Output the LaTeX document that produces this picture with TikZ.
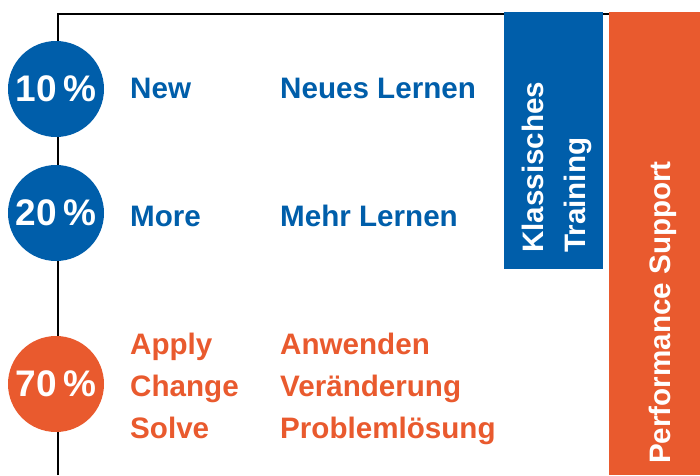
\documentclass[tikz,border=0pt]{standalone}
\usepackage{fontspec}
\setmainfont{Liberation Sans}
\usetikzlibrary{positioning}
\definecolor{learnBlue}{RGB}{0,94,170}
\definecolor{learnOrange}{RGB}{233,90,46}

\begin{document}
\begin{tikzpicture}[
  x=1pt, y=1pt,
  share/.style={circle, inner sep=0pt, minimum size=96pt, text=white, font=\fontsize{37}{42}\selectfont\bfseries},
  label/.style={anchor=base west, inner sep=0pt, font=\fontsize{29.6}{34}\selectfont\bfseries},
  band/.style={anchor=base west, inner sep=0pt, rotate=90, text=white, font=\fontsize{29.6}{34}\selectfont\bfseries},
  axis/.style={line width=2pt, draw=black}
]
\useasboundingbox (0,0) rectangle (700,475);

% frame
\coordinate (top) at (58,461);
\coordinate (bottom) at (58,0);
\coordinate (corner) at (609,461);
\draw[axis] (bottom) -- (top) -- (corner);

% the three shares
\node[share, fill=learnBlue] (ten) at (56,386) {10\,\%};
\node[share, fill=learnBlue] (twenty) at (56,262) {20\,\%};
\node[share, fill=learnOrange] (seventy) at (56,91) {70\,\%};

\node[label, text=learnBlue] (new) at (130,377) {New};
\node[label, text=learnBlue] (neues) at (280,377) {Neues Lernen};
\node[label, text=learnBlue] (more) at (130,249) {More};
\node[label, text=learnBlue] (mehr) at (280,249) {Mehr Lernen};

\node[label, text=learnOrange] (apply) at (130,121) {Apply};
\node[label, text=learnOrange] (anwenden) at (280,121) {Anwenden};
\node[label, text=learnOrange] (change) at (130,79) {Change};
\node[label, text=learnOrange] (veraenderung) at (280,79) {Veränderung};
\node[label, text=learnOrange] (solve) at (130,37) {Solve};
\node[label, text=learnOrange] (problem) at (280,37) {Problemlösung};

% bands on the right
\fill[learnBlue] (504,206) rectangle (603,463);
\fill[learnOrange] (609,0) rectangle (700,463);

\node[band] (klassisches) at (543,222) {Klassisches};
\node[band] (training) at (585,222) {Training};
\node[band] (support) at (670,11) {Performance Support};
\end{tikzpicture}
\end{document}
